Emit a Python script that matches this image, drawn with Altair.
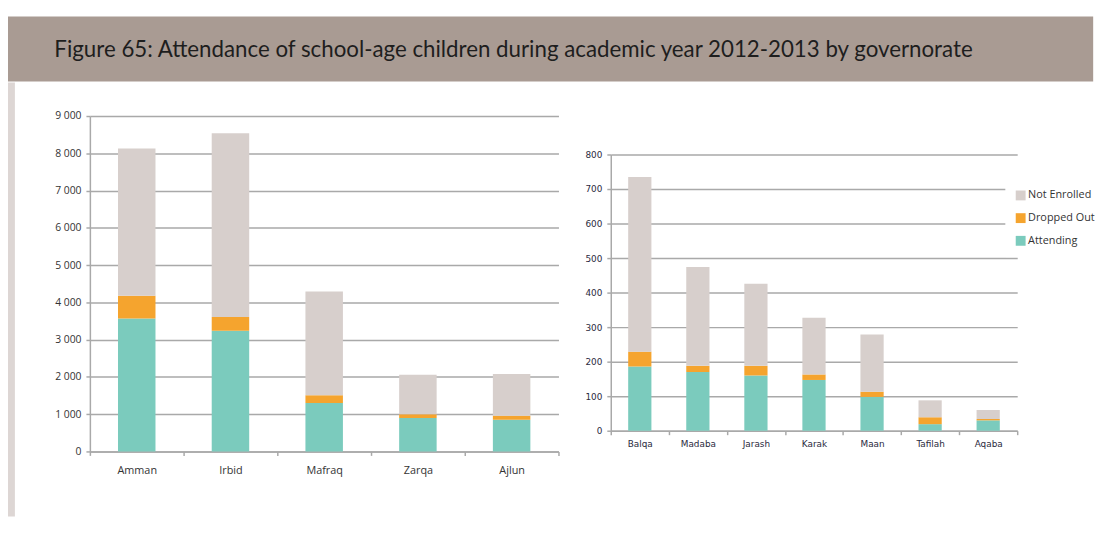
import altair as alt
import pandas as pd

TITLE = "Figure 65:  Attendance of school-age children during academic year 2012-2013 by governorate"

status_order = ["Not Enrolled", "Dropped Out", "Attending"]
status_colors = ["#d7cfcc", "#f5a42e", "#7bcbbd"]

left_govs = ["Amman", "Irbid", "Mafraq", "Zarqa", "Ajlun"]
left_attending = [3570, 3240, 1300, 900, 850]
left_dropped = [610, 370, 210, 100, 110]
left_not_enrolled = [3950, 4930, 2780, 1060, 1120]
left_ticks = [0, 1000, 2000, 3000, 4000, 5000, 6000, 7000, 8000, 9000]

right_govs = ["Balqa", "Madaba", "Jarash", "Karak", "Maan", "Tafilah", "Aqaba"]
right_attending = [186, 170, 160, 147, 98, 19, 30]
right_dropped = [43, 18, 28, 16, 15, 20, 4]
right_not_enrolled = [506, 286, 238, 164, 166, 49, 26]
right_ticks = [0, 100, 200, 300, 400, 500, 600, 700, 800]


def long_table(govs, att, drop, ne):
    rows = []
    for g, a, d, n in zip(govs, att, drop, ne):
        rows.append({"gov": g, "status": "Attending", "value": a, "ord": 0})
        rows.append({"gov": g, "status": "Dropped Out", "value": d, "ord": 1})
        rows.append({"gov": g, "status": "Not Enrolled", "value": n, "ord": 2})
    return pd.DataFrame(rows)


left_df = long_table(left_govs, left_attending, left_dropped, left_not_enrolled)
right_df = long_table(right_govs, right_attending, right_dropped, right_not_enrolled)

GRID = "#a9a9a9"

color_enc = alt.Color(
    "status:N",
    scale=alt.Scale(domain=status_order, range=status_colors),
    legend=alt.Legend(
        title=None,
        orient="none",
        legendX=1011,
        legendY=166,
        symbolType="square",
        symbolSize=100,
        symbolStrokeWidth=0,
        labelFont="Open Sans",
        labelFontSize=11,
        labelColor="#333333",
        labelOffset=2,
        rowPadding=11,
        padding=10,
        fillColor="white",
        strokeColor="white",
    ),
)


def bar_chart(df, govs, ticks, ymax, w, h, font, fsize, lcolor, xfsize, xpad, label_expr=None):
    yaxis_kwargs = dict(
        title=None,
        values=ticks,
        grid=True,
        gridColor=GRID,
        gridWidth=1.5,
        domainColor=GRID,
        domainWidth=1.5,
        tickColor=GRID,
        tickWidth=1.5,
        tickSize=4,
        labelFont=font,
        labelFontSize=fsize,
        labelColor=lcolor,
        labelPadding=5,
    )
    if label_expr:
        yaxis_kwargs["labelExpr"] = label_expr
    return (
        alt.Chart(df)
        .mark_bar(width=alt.RelativeBandSize(0.4))
        .encode(
            x=alt.X(
                "gov:N",
                sort=govs,
                scale=alt.Scale(paddingInner=0, paddingOuter=0),
                axis=alt.Axis(
                    title=None,
                    labelAngle=0,
                    tickBand="extent",
                    domainColor=GRID,
                    domainWidth=1.5,
                    tickColor=GRID,
                    tickWidth=1.5,
                    tickSize=4,
                    labelFont=font,
                    labelFontSize=xfsize,
                    labelColor=lcolor,
                    labelPadding=xpad,
                    grid=False,
                ),
            ),
            y=alt.Y(
                "value:Q",
                stack=True,
                scale=alt.Scale(domain=[0, ymax], nice=False),
                axis=alt.Axis(**yaxis_kwargs),
            ),
            color=color_enc,
            order=alt.Order("ord:Q", sort="ascending"),
        )
        .properties(width=w, height=h)
    )


left = bar_chart(
    left_df, left_govs, left_ticks, 9000, 475, 340, "Open Sans", 10.5, "#333333", 11, 9,
    label_expr="replace(format(datum.value, ','), ',', ' ')",
)
right = bar_chart(
    right_df, right_govs, right_ticks, 800, 412, 280, "DejaVu Sans", 9, "#2a2a40", 9, 5,
)

dummy = pd.DataFrame({"a": [0]})


def spacer(w, h, fill=None):
    c = alt.Chart(dummy).mark_point(opacity=0, size=0).encode(x=alt.value(0), y=alt.value(0))
    if fill:
        return c.properties(width=w, height=h, view=alt.ViewBackground(fill=fill, stroke=None))
    return c.properties(width=w, height=h)


banner = (
    alt.Chart(pd.DataFrame({"t": [TITLE]}))
    .mark_text(align="left", baseline="alphabetic", font="Lato", fontSize=22.6, color="#1e1e1e")
    .encode(x=alt.value(47), y=alt.value(41), text="t:N")
    .properties(width=1100, height=66, view=alt.ViewBackground(fill="#a99b93", stroke=None))
)

strip = spacer(7, 440, fill="#ddd6d4")
leftcol = alt.vconcat(spacer(10, 29), left, spacing=0)
rightcol = alt.vconcat(spacer(10, 69), right, spacing=0)
inner = alt.hconcat(strip, leftcol, spacing=40)
lower = alt.hconcat(inner, rightcol, spacing=25)

chart = (
    alt.vconcat(banner, lower, spacing=1)
    .properties(padding={"top": 5, "left": 0, "right": 0, "bottom": 0})
    .configure_view(stroke=None)
)

chart.save("out.html", embed_options={"renderer": "svg", "actions": False})
